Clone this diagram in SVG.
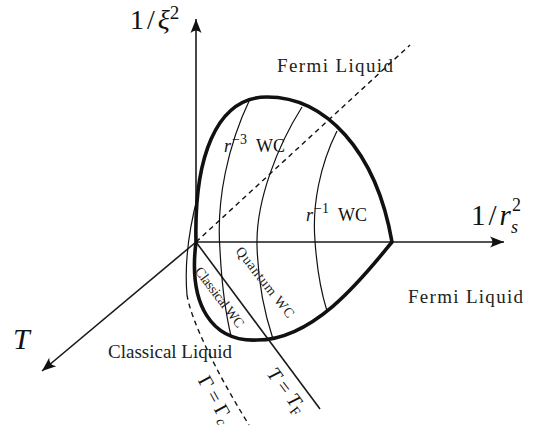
<svg xmlns="http://www.w3.org/2000/svg" width="533" height="433" viewBox="0 0 533 433">
<style>
.ax{fill:none;stroke:#1a1a1a;stroke-width:1.6}
.bold{fill:none;stroke:#111;stroke-width:3.6;stroke-linejoin:miter}
.thin{fill:none;stroke:#111;stroke-width:1.2}
.dash{fill:none;stroke:#111;stroke-width:1.4;stroke-dasharray:5,4}
.lbl{font-family:"Liberation Serif","DejaVu Serif",serif;fill:#222}
.math{font-family:"Liberation Serif","DejaVu Serif",serif;font-style:italic;fill:#111}
.num{font-family:"Liberation Serif","DejaVu Serif",serif;fill:#111}
</style>
<defs>
<marker id="ah" markerUnits="userSpaceOnUse" markerWidth="16" markerHeight="12" refX="0" refY="0" viewBox="-15 -6 16 12" orient="auto" overflow="visible">
<path d="M0,0 L-14,-5.5 Q-9,0 -14,5.5 Z" fill="#111"/>
</marker>
</defs>
<rect width="533" height="433" fill="#fff"/>
<g id="connectors">
<path class="ax" d="M196,242 V19" marker-end="url(#ah)"/>
<path class="ax" d="M196,242 H504" marker-end="url(#ah)"/>
<path class="ax" d="M196,242 L42,371" marker-end="url(#ah)"/>
<path class="dash" d="M196,242 L410,45"/>
<path class="ax" d="M196,242 L320,409"/>
<path class="thin" d="M198,195 C190,225 184,260 187,295"/>
<path class="dash" d="M187,295 C191,320 215,370 249,425"/>
</g>
<g id="dome">
<path class="bold" d="M196,242 C194,160 215,97 267,97 C325,97 376,150 392,242 C365,275 315,340 257,340 C212,342 188,305 196,242 Z"/>
<path class="thin" d="M250,99 C228,145 216,200 220,250 C222,290 226,315 231,336"/>
<path class="thin" d="M302,107 C278,145 256,200 257,245 C258,285 265,315 273,339"/>
<path class="thin" d="M337,131 C320,165 312,205 315,241 C317,270 321,292 327,311"/>
</g>
<g id="label-xi">
<text class="num" x="130" y="29" font-size="28">1<tspan dx="3">/</tspan><tspan class="math" dx="3">ξ</tspan><tspan font-size="19" dy="-10">2</tspan></text>
</g>
<g id="label-rs">
<text class="num" x="471" y="225" font-size="29">1<tspan dx="3">/</tspan><tspan class="math" dx="3">r</tspan></text>
<text class="math" x="511" y="233" font-size="18">s</text>
<text class="num" x="512" y="211" font-size="18">2</text>
</g>
<g id="label-T">
<text class="math" x="13" y="349" font-size="30">T</text>
</g>
<g id="fermi-top">
<text class="lbl" x="277" y="72" font-size="19" textLength="116" lengthAdjust="spacing">Fermi Liquid</text>
</g>
<g id="fermi-right">
<text class="lbl" x="408" y="303" font-size="19" textLength="115" lengthAdjust="spacing">Fermi Liquid</text>
</g>
<g id="classical-liquid">
<text class="lbl" x="108" y="358" font-size="19" textLength="124" lengthAdjust="spacing">Classical Liquid</text>
</g>
<g id="r3wc">
<text class="num" x="224" y="152" font-size="18"><tspan class="math">r</tspan><tspan font-size="14" dy="-8" dx="1">−3</tspan><tspan dy="8" dx="9">WC</tspan></text>
</g>
<g id="r1wc">
<text class="num" x="306" y="221" font-size="18"><tspan class="math">r</tspan><tspan font-size="14" dy="-8" dx="1">−1</tspan><tspan dy="8" dx="9">WC</tspan></text>
</g>
<g id="quantum-wc">
<text class="lbl" transform="translate(265.5,282) rotate(52)" text-anchor="middle" y="5" font-size="14" textLength="86" lengthAdjust="spacing">Quantum WC</text>
</g>
<g id="classical-wc">
<text class="lbl" transform="translate(220,297) rotate(53)" text-anchor="middle" y="5" font-size="14" textLength="72" lengthAdjust="spacing">Classical WC</text>
</g>
<g id="label-TF">
<text class="num" transform="translate(287,390) rotate(53)" text-anchor="middle" y="7" font-size="20"><tspan class="math">T</tspan> = <tspan class="math">T</tspan><tspan font-size="14" dy="4">F</tspan></text>
</g>
<g id="label-Gamma">
<text class="num" transform="translate(216,399) rotate(61)" text-anchor="middle" y="7" font-size="20">Γ = Γ<tspan class="math" font-size="14" dy="4">c</tspan></text>
</g>
</svg>
